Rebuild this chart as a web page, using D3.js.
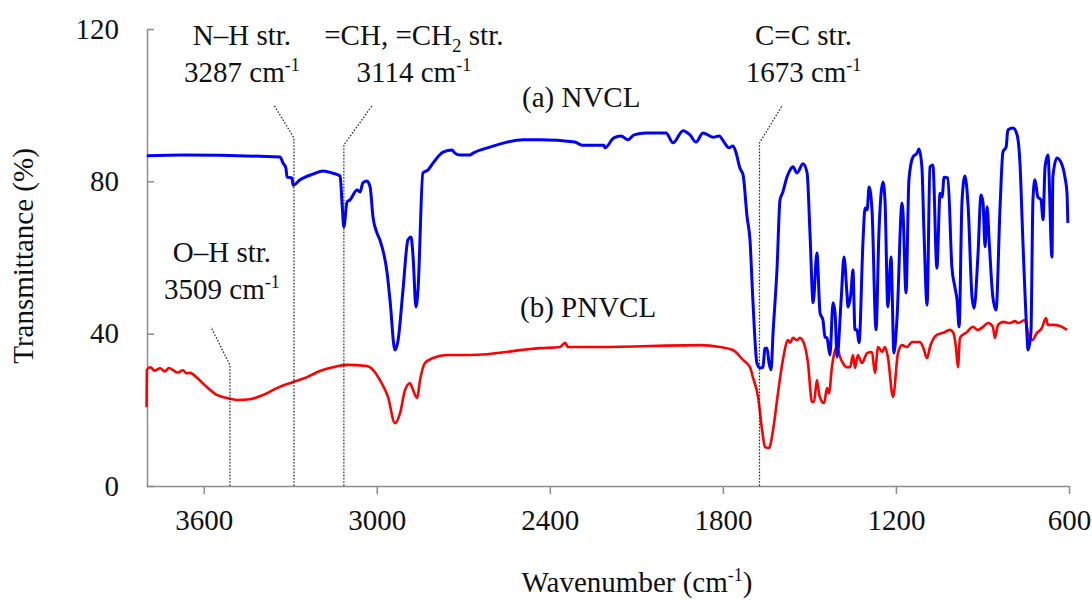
<!DOCTYPE html>
<html>
<head>
<meta charset="utf-8">
<script src="https://cdn.jsdelivr.net/npm/d3@7"></script>
<style>
    html, body { margin: 0; padding: 0; background: #fff; }
    svg { display: block; }
    svg text { font-family: "Liberation Serif", "DejaVu Serif", "Noto Serif", Times, serif; }
    .axis path, .axis line { stroke: #8c8c8c; stroke-width: 1.5; }
    .axis text { font-size: 29px; fill: #111; }
    .lbl { font-size: 29px; fill: #111; }
</style>
</head>
<body>
<div id="chart"></div>
<script>
    //----- DATA ---------------------------------------//
    // (a) NVCL : wavenumber (cm-1), transmittance (%)
    var nvclWn = [3797, 3672, 3335, 3325, 3315, 3311, 3294, 3290, 3266, 3221, 3186, 3155, 3127, 3120,
        3114, 3103, 3093, 3068, 3058, 3048, 3034, 3023, 3013, 2999, 2989, 2964, 2954, 2937, 2926, 2909,
        2892, 2881, 2874, 2864, 2857, 2840, 2822, 2805, 2770, 2739, 2729, 2711, 2677, 2666, 2607, 2548,
        2493, 2434, 2313, 2288, 2212, 2209, 2178, 2153, 2129, 2108, 2067, 2018, 1997, 1973, 1938, 1914,
        1893, 1869, 1834, 1813, 1796, 1779, 1765, 1755, 1741, 1730, 1716, 1706, 1696, 1682, 1671, 1661,
        1654, 1647, 1640, 1633, 1626, 1612, 1602, 1592, 1578, 1567, 1557, 1543, 1522, 1508, 1498, 1487,
        1474, 1463, 1453, 1446, 1439, 1429, 1418, 1411, 1404, 1390, 1380, 1370, 1366, 1356, 1349, 1342,
        1335, 1328, 1314, 1307, 1300, 1293, 1283, 1269, 1259, 1245, 1238, 1228, 1217, 1207, 1196, 1179,
        1176, 1165, 1155, 1141, 1127, 1120, 1110, 1103, 1092, 1082, 1072, 1058, 1047, 1040, 1033, 1020,
        1006, 995, 988, 981, 971, 961, 950, 936, 929, 916, 905, 898, 891, 884, 877, 864, 853, 839, 829,
        818, 812, 794, 780, 770, 760, 746, 742, 732, 725, 718, 708, 697, 690, 683, 673, 659, 656, 642,
        624, 614, 607, 604];
    var nvclT = [86.7, 86.9, 86.4, 84.8, 83.5, 81.1, 80.9, 79.0, 80.4, 81.9, 82.7, 82.2, 81.4, 73.8,
        68.0, 74.6, 75.1, 77.7, 77.2, 79.6, 80.1, 78.5, 70.6, 66.4, 64.6, 55.9, 48.8, 35.7, 38.3, 51.5,
        64.6, 65.4, 60.1, 47.0, 51.5, 82.2, 83.0, 84.8, 87.7, 88.2, 87.4, 86.9, 86.9, 87.4, 89.0, 90.3,
        90.9, 90.9, 90.3, 89.5, 89.5, 88.8, 91.4, 91.9, 90.9, 92.2, 92.7, 92.7, 92.7, 90.1, 93.3, 92.2,
        90.3, 92.7, 91.6, 91.9, 90.3, 88.8, 89.3, 87.7, 83.5, 81.7, 70.6, 64.6, 48.8, 32.3, 31.0, 31.2,
        36.2, 36.2, 32.3, 30.5, 40.2, 57.5, 75.1, 77.2, 81.1, 83.0, 83.8, 82.2, 84.6, 82.2, 66.4, 48.1,
        61.2, 45.4, 43.6, 39.1, 38.9, 34.4, 48.1, 45.4, 33.9, 48.8, 60.1, 50.7, 47.0, 50.7, 56.7, 41.0,
        41.0, 37.6, 64.6, 73.0, 72.5, 78.5, 72.5, 41.0, 66.4, 79.8, 75.1, 47.0, 60.1, 34.9, 44.4, 74.3,
        72.5, 50.7, 80.4, 86.4, 87.4, 88.5, 83.8, 67.2, 47.5, 83.8, 84.3, 57.2, 76.9, 75.9, 81.1, 80.9,
        57.5, 52.0, 48.8, 41.8, 74.6, 81.4, 73.8, 49.4, 46.7, 60.1, 76.4, 74.3, 62.8, 73.3, 64.6, 49.6,
        46.2, 73.3, 87.7, 89.0, 93.5, 94.0, 92.2, 84.8, 64.6, 40.2, 35.7, 40.2, 75.1, 80.4, 75.9, 75.1,
        69.9, 83.8, 86.9, 60.1, 81.1, 86.1, 84.3, 81.1, 76.9, 69.1];

    // (b) PNVCL : wavenumber (cm-1), transmittance (%)
    var pnvclWn = [3798, 3797, 3785, 3770, 3751, 3735, 3720, 3706, 3690, 3672, 3660, 3647, 3623, 3589,
        3554, 3519, 3484, 3439, 3394, 3346, 3290, 3242, 3197, 3152, 3103, 3034, 3013, 2989, 2961, 2937,
        2919, 2902, 2885, 2874, 2860, 2850, 2833, 2805, 2756, 2677, 2434, 2365, 2347, 2337, 2226, 1879,
        1810, 1765, 1730, 1706, 1696, 1678, 1664, 1654, 1640, 1626, 1609, 1592, 1574, 1567, 1557, 1543,
        1533, 1515, 1505, 1491, 1484, 1474, 1467, 1456, 1449, 1439, 1432, 1422, 1411, 1404, 1394, 1384,
        1370, 1359, 1349, 1342, 1332, 1318, 1300, 1283, 1273, 1262, 1248, 1238, 1228, 1210, 1193, 1179,
        1162, 1144, 1117, 1106, 1092, 1082, 1058, 1037, 1013, 1002, 992, 985, 978, 954, 933, 916, 898,
        881, 864, 857, 846, 829, 805, 787, 777, 753, 742, 728, 711, 694, 680, 673, 656, 631, 607];
    var pnvclT = [20.7, 30.5, 31.2, 30.3, 30.9, 30.1, 31.0, 30.4, 29.8, 30.4, 29.6, 29.7, 28.4, 26.0,
        23.9, 23.1, 22.6, 22.8, 23.9, 25.7, 27.3, 28.6, 30.2, 31.2, 31.8, 31.5, 30.5, 27.8, 23.4, 16.5,
        19.2, 25.2, 27.0, 25.2, 23.1, 27.8, 32.3, 33.6, 34.4, 34.4, 36.2, 36.5, 37.6, 36.5, 36.5, 37.0,
        36.5, 35.7, 33.1, 31.2, 28.6, 23.4, 14.7, 10.2, 10.0, 14.7, 24.4, 33.1, 38.3, 37.6, 38.9, 38.3,
        38.9, 36.5, 32.3, 22.1, 22.1, 27.8, 24.4, 22.1, 21.8, 25.7, 24.4, 31.2, 35.7, 36.5, 33.9, 32.3,
        31.2, 31.2, 34.4, 31.0, 34.4, 32.3, 34.9, 35.2, 29.7, 36.5, 35.2, 36.5, 33.9, 23.4, 34.9, 37.0,
        36.5, 37.8, 37.8, 36.5, 33.6, 36.5, 39.7, 40.2, 41.0, 40.4, 36.5, 31.2, 38.9, 40.4, 41.8, 41.0,
        41.8, 42.8, 41.8, 38.9, 42.3, 43.1, 42.8, 43.3, 42.8, 43.6, 40.2, 38.3, 40.2, 41.5, 44.1, 42.3,
        42.3, 42.0, 41.0];

    // axis ticks
    var xTicks = [3600, 3000, 2400, 1800, 1200, 600];
    var yTicks = [0, 40, 80, 120];

    // band assignments
    var bandWn = [3509, 3287, 3114, 1673];
    var bandName = ['O\u2013H str.', 'N\u2013H str.', '=CH, =CH2 str.', 'C=C str.'];

    //----- SETTINGS -----------------------------------//
    var WIDTH = 1092,
        HEIGHT = 600,
        X0 = 146, X1 = 1069,
        Y0 = 486, Y1 = 29,
        FONT = '"Liberation Serif", "DejaVu Serif", "Noto Serif", Times, serif';

    var svg = d3.select('#chart').append('svg')
        .attr('width', WIDTH)
        .attr('height', HEIGHT);

    var x = d3.scaleLinear().domain([3800, 600]).range([X0, X1]);
    var y = d3.scaleLinear().domain([0, 120]).range([Y0, Y1]);

    //----- AXES ---------------------------------------//
    svg.append('g')
        .attr('class', 'axis')
        .attr('transform', 'translate(0,' + Y0 + ')')
        .call(d3.axisBottom(x).tickValues(xTicks).tickSizeInner(8).tickSizeOuter(0).tickPadding(15)
            .tickFormat(d3.format('d')))
        .attr('font-family', FONT);

    svg.append('g')
        .attr('class', 'axis')
        .attr('transform', 'translate(' + (X0 + 1) + ',0)')
        .call(d3.axisLeft(y).tickValues(yTicks).tickSizeInner(-7).tickSizeOuter(0).tickPadding(28))
        .attr('font-family', FONT);

    //----- SPECTRA ------------------------------------//
    var line = d3.line()
        .x(function (d) { return x(d[0]); })
        .y(function (d) { return y(d[1]); })
        .curve(d3.curveMonotoneX);

    function spectrum(wn, t, color, width) {
        // negate wavenumber so monotone curve sees increasing x
        var pts = d3.zip(wn, t);
        svg.append('path')
            .datum(pts)
            .attr('fill', 'none')
            .attr('stroke', color)
            .attr('stroke-width', width)
            .attr('stroke-linejoin', 'round')
            .attr('d', line);
    }

    spectrum(pnvclWn, pnvclT, '#ff0000', 2.6);
    spectrum(nvclWn, nvclT, '#0000ff', 3);

    //----- BAND MARKERS -------------------------------//
    // knee height, diagonal end offset, label centre offset, label baselines
    var kneeY = [365, 138, 145, 143],
        tipDx = [-19, -20, 28, 23],
        tipY = [327, 105, 106, 105],
        textDx = [-8, -52, 70, 44],
        textY = [262, 45, 45, 45];

    bandWn.forEach(function (wn, i) {
        var bx = x(wn);
        svg.append('path')
            .attr('d', 'M' + bx + ',' + Y0 + 'L' + bx + ',' + kneeY[i] + 'L' + (bx + tipDx[i]) + ',' + tipY[i])
            .attr('fill', 'none')
            .attr('stroke', '#222')
            .attr('stroke-width', 1.2)
            .attr('stroke-dasharray', '1.6,1.6');

        var t1 = svg.append('text')
            .attr('class', 'lbl')
            .attr('x', bx + textDx[i])
            .attr('y', textY[i])
            .attr('text-anchor', 'middle');
        if (i === 2) {
            t1.append('tspan').text('=CH, =CH');
            t1.append('tspan').attr('dy', 7).attr('font-size', 19).text('2');
            t1.append('tspan').attr('dy', -7).text(' str.');
        } else {
            t1.text(bandName[i]);
        }

        var t2 = svg.append('text')
            .attr('class', 'lbl')
            .attr('x', bx + textDx[i])
            .attr('y', textY[i] + 37)
            .attr('text-anchor', 'middle');
        t2.append('tspan').text(wn + ' cm');
        t2.append('tspan').attr('dy', -11).attr('font-size', 18).text('-1');
    });

    //----- SERIES LABELS ------------------------------//
    svg.append('text').attr('class', 'lbl').attr('x', 522).attr('y', 107).text('(a) NVCL');
    svg.append('text').attr('class', 'lbl').attr('x', 520).attr('y', 317).text('(b) PNVCL');

    //----- AXIS TITLES --------------------------------//
    var xt = svg.append('text')
        .attr('class', 'lbl')
        .attr('x', 637)
        .attr('y', 592)
        .attr('text-anchor', 'middle');
    xt.append('tspan').text('Wavenumber (cm');
    xt.append('tspan').attr('dy', -11).attr('font-size', 18).text('-1');
    xt.append('tspan').attr('dy', 11).text(')');

    svg.append('text')
        .attr('class', 'lbl')
        .attr('transform', 'translate(33,256) rotate(-90)')
        .attr('text-anchor', 'middle')
        .text('Transmittance (%)');
</script>
</body>
</html>
